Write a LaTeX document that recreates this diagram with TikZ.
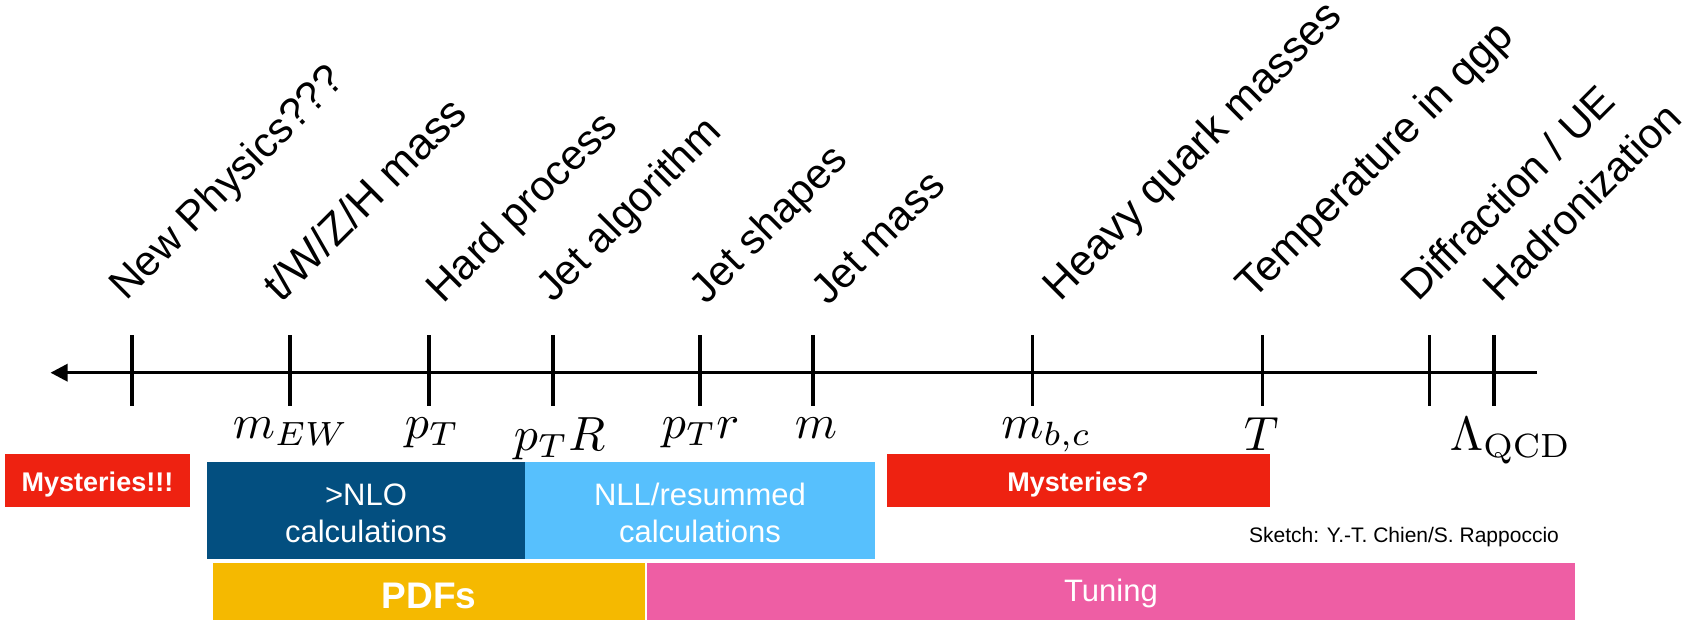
\documentclass[tikz,border=0pt]{standalone}
\usepackage[no-math]{fontspec}
\newfontfamily\lsans{Liberation Sans}
\usetikzlibrary{arrows.meta}
\definecolor{myred}{RGB}{238,34,17}
\definecolor{darkblue}{RGB}{3,79,128}
\definecolor{lightblue}{RGB}{87,192,253}
\definecolor{pdfyellow}{RGB}{245,185,0}
\definecolor{tunepink}{RGB}{238,94,164}
\tikzset{
  lab/.style={font=\lsans\fontsize{42}{48}\selectfont, rotate=45, anchor=base west, inner sep=0pt},
  labbig/.style={lab, font=\lsans\fontsize{43}{49}\selectfont},
  mlab/.style={font=\fontsize{10}{12}\selectfont, scale=4.8, anchor=north west, inner sep=0pt},
  tickline/.style={line width=3.4pt},
  bar/.style={anchor=north west, inner sep=0pt, outer sep=0pt},
  btxt/.style={font=\lsans\fontsize{31}{37}\selectfont, text=white, inner sep=0pt, anchor=base},
  bbold/.style={text=white, inner sep=0pt, anchor=base},
}
\begin{document}
\begin{tikzpicture}[x=1pt,y=-1pt]
\useasboundingbox (0,0) rectangle (1704,620);

% axis
\coordinate (axR) at (1537,372.7);
\coordinate (axL) at (50.5,372.7);
\draw[line width=3.2pt, -{Triangle[length=17pt,width=17pt]}] (axR) -- (axL);

% ticks
\foreach \x in {132,290,429,553,700,813,1032.6,1262.6,1429.7,1494}{
  \draw[tickline] (\x,335) -- (\x,405.7);
}

% rotated labels
\node[lab] (l1) at (126,302) {New Physics???};
\node[lab, font=\lsans\fontsize{44}{50}\selectfont] (l2) at (281,304) {t/W/Z/H mass};
\node[lab] (l3) at (443,305) {Hard process};
\node[lab] (l4) at (553,304) {Jet algorithm};
\node[lab] (l5) at (706,305.5) {Jet shapes};
\node[lab] (l6) at (828,307) {Jet mass};
\node[labbig] (l7) at (1060,302.5) {Heavy quark masses};
\node[labbig] (l8) at (1253,301) {Temperature in qgp};
\node[lab] (l9) at (1418,303) {Diffraction / UE};
\node[lab] (l10) at (1500.5,304) {Hadronization};

% math labels
\node[mlab] (m1) at (232,417) {$m_{EW}$};
\node[mlab] (m2) at (404,417) {$p_T$};
\node[mlab] (m3) at (513,417) {$p_TR$};
\node[mlab] (m4) at (661,417) {$p_Tr$};
\node[mlab] (m5) at (794,417) {$m$};
\node[mlab] (m6) at (1000.5,417) {$m_{b,c}$};
\node[mlab] (m7) at (1243,417) {$T$};
\node[mlab] (m8) at (1449,417) {$\Lambda_{\mathrm{QCD}}$};

% bars
\node[bar, fill=myred, minimum width=185pt, minimum height=52.7pt] (b1) at (5,454) {};
\node[bar, fill=darkblue, minimum width=318pt, minimum height=96.4pt] (b2) at (207,462.3) {};
\node[bar, fill=lightblue, minimum width=350pt, minimum height=96.4pt] (b3) at (525,462.3) {};
\node[bar, fill=myred, minimum width=382.5pt, minimum height=52.7pt] (b4) at (887,454) {};
\node[bar, fill=pdfyellow, minimum width=432pt, minimum height=57pt] (b5) at (213,563) {};
\node[bar, fill=tunepink, minimum width=928pt, minimum height=57pt] (b6) at (647,563) {};

% bar texts
\node[bbold, font=\lsans\bfseries\fontsize{27}{32}\selectfont] (t1) at (97.5,491.7) {Mysteries!!!};
\node[btxt] (t2a) at (366,505) {>NLO};
\node[btxt] (t2b) at (366,542.7) {calculations};
\node[btxt] (t3a) at (700,505) {NLL/resummed};
\node[btxt] (t3b) at (700,542.7) {calculations};
\node[bbold, font=\lsans\bfseries\fontsize{27}{32}\selectfont] (t4) at (1078,491) {Mysteries?};
\node[bbold, font=\lsans\bfseries\fontsize{37}{44}\selectfont] (t5) at (429,608.7) {PDFs};
\node[btxt] (t6) at (1111,601.7) {Tuning};
\node[font=\lsans\fontsize{21}{25}\selectfont, inner sep=0pt, anchor=base] (sk) at (1404,542.7) {Sketch: Y.-T. Chien/S. Rappoccio};
\end{tikzpicture}
\end{document}
